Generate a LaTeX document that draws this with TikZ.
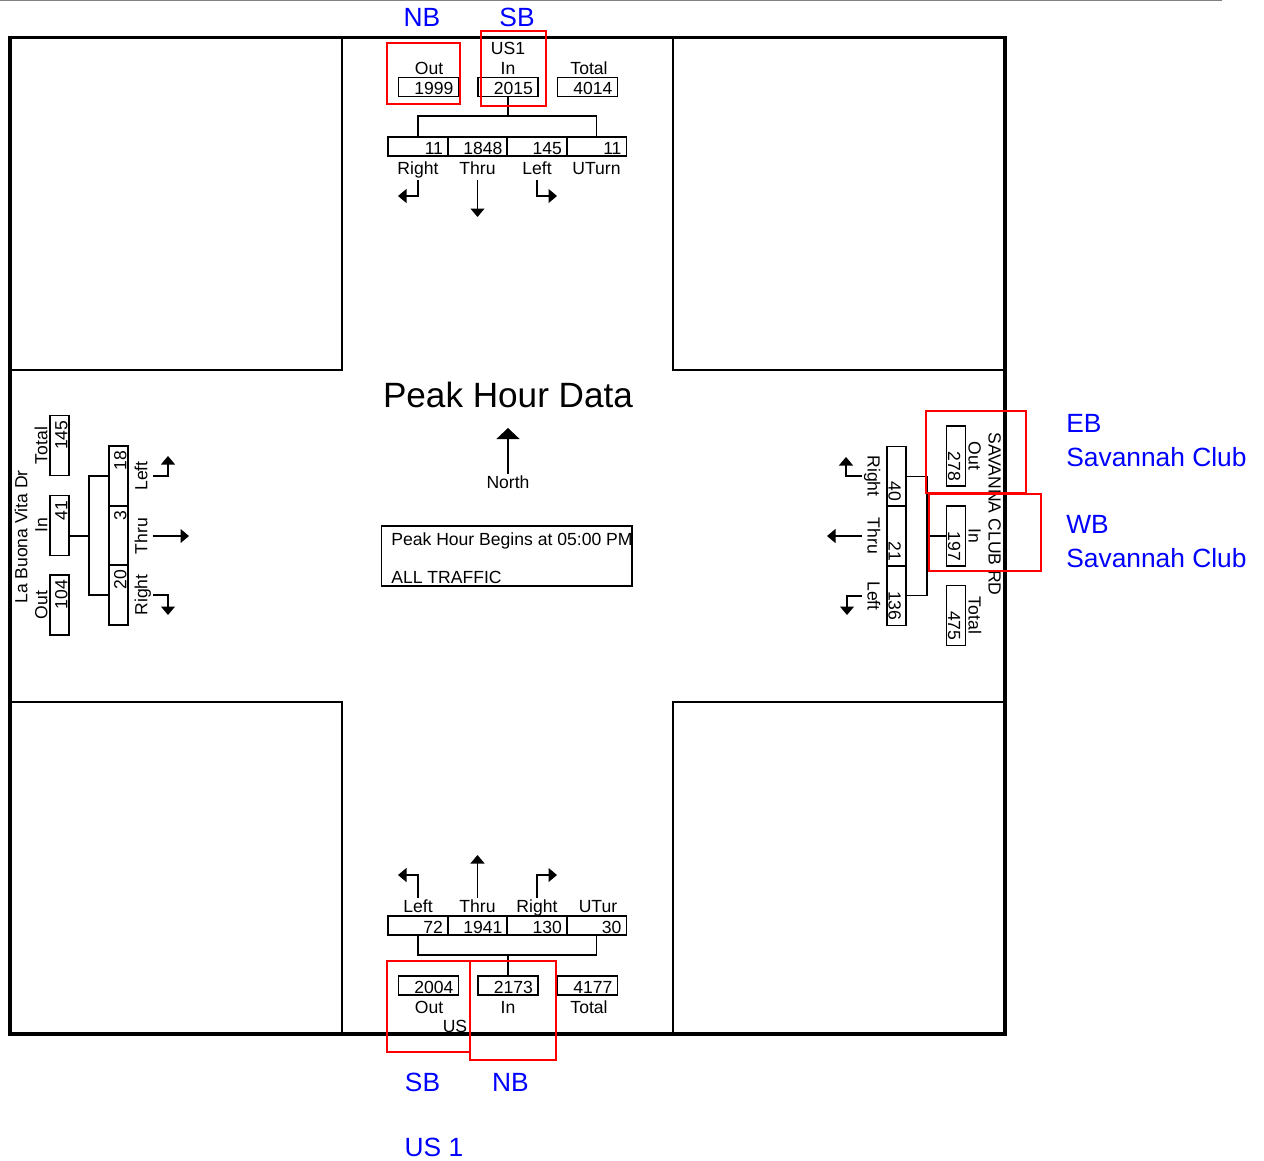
\documentclass[tikz,border=0pt]{standalone}
\usepackage{fontspec}
\setmainfont{Liberation Sans}
\usetikzlibrary{arrows.meta, positioning}

\begin{document}
\begin{tikzpicture}[x=0.02cm, y=-0.02cm,
  vol/.style={draw, line width=0.6pt, minimum height=0.38cm, text width=1.0cm, inner xsep=0.1cm, inner ysep=0pt, align=right, text height=9pt, text depth=0pt, font=\fontsize{10}{10}\selectfont},
  lbl/.style={inner sep=1pt, text height=7.5pt, text depth=2pt, font=\fontsize{10}{12}\selectfont},
  wire/.style={line width=0.6pt},
  turn/.style={-{Triangle[length=0.17cm, width=0.28cm]}, line width=0.6pt},
  note/.style={blue, inner sep=0pt, anchor=base, font=\fontsize{15}{18}\selectfont},
  hilite/.style={draw=red, line width=1.6pt}
]
\useasboundingbox (0,0) rectangle (1264,1160);

% frame and corner blocks
\draw[gray, line width=0.4pt] (0,0.7) -- (1222,0.7);
\draw[wire] (10,37.5) rectangle (342,370);
\draw[wire] (673,37.5) rectangle (1005,370);
\draw[wire] (10,702) rectangle (342,1034);
\draw[wire] (673,702) rectangle (1005,1034);
\draw[line width=2pt] (10,37.5) rectangle (1005,1034);

% north leg
\node[lbl] (usN) at (508,50) {US1};
\node[lbl] (oN) at (429,70) {Out};
\node[lbl] (iN) at (508,70) {In};
\node[lbl] (tN) at (589,70) {Total};
\node[vol] (outN) at (428.5,87) {1999};
\node[vol] (inN) at (508,87) {2015};
\node[vol] (totN) at (587.5,87) {4014};
\node[vol] (rN) at (418,146.5) {11};
\node[vol] (thN) at (477.5,146.5) {1848};
\node[vol] (lN) at (537,146.5) {145};
\node[vol] (uN) at (596.5,146.5) {11};
\node[lbl] (rlN) at (418,170) {Right};
\node[lbl] (thlN) at (477.5,170) {Thru};
\node[lbl] (llN) at (537,170) {Left};
\node[lbl] (ulN) at (596.5,170) {UTurn};
\coordinate (barN) at (508,116);
\draw[wire] (rN.north) |- (barN) -| (uN.north);
\draw[wire] (inN.south) -- (barN);
\coordinate (tipRN) at (398,196);
\coordinate (tipThN) at (477.5,217);
\coordinate (tipLN) at (557,196);
\draw[turn] (rlN.south) |- (tipRN);
\draw[turn] (thlN.south) -- (tipThN);
\draw[turn] (llN.south) |- (tipLN);

% south leg
\coordinate (tipLS) at (398,875);
\coordinate (tipThS) at (477.5,855);
\coordinate (tipRS) at (557,875);
\node[lbl] (llS) at (418,908) {Left};
\node[lbl] (thlS) at (477.5,908) {Thru};
\node[lbl] (rlS) at (537,908) {Right};
\node[lbl] (ulS) at (598,908) {UTur};
\draw[turn] (llS.north) |- (tipLS);
\draw[turn] (thlS.north) -- (tipThS);
\draw[turn] (rlS.north) |- (tipRS);
\node[vol] (lS) at (418,925.5) {72};
\node[vol] (thS) at (477.5,925.5) {1941};
\node[vol] (rS) at (537,925.5) {130};
\node[vol] (uS) at (596.5,925.5) {30};
\node[vol] (outS) at (428.5,985.5) {2004};
\node[vol] (inS) at (508,985.5) {2173};
\node[vol] (totS) at (587.5,985.5) {4177};
\coordinate (barS) at (508,955);
\draw[wire] (lS.south) |- (barS) -| (uS.south);
\draw[wire] (inS.north) -- (barS);
\node[lbl] (oS) at (429,1009) {Out};
\node[lbl] (iS) at (508,1009) {In};
\node[lbl] (tS) at (589,1009) {Total};
\node[lbl] (usS) at (455,1028) {US};

% west leg
\node[lbl, rotate=90] (nmW) at (22.5,537) {La Buona Vita Dr};
\node[lbl, rotate=90] (tW) at (42.5,445.5) {Total};
\node[lbl, rotate=90] (iW) at (42.5,525.5) {In};
\node[lbl, rotate=90] (oW) at (42.5,605) {Out};
\node[vol, rotate=90] (totW) at (59.5,445.5) {145};
\node[vol, rotate=90] (inW) at (59.5,525.5) {41};
\node[vol, rotate=90] (outW) at (59.5,605) {104};
\node[vol, rotate=90] (lW) at (118.5,476) {18};
\node[vol, rotate=90] (thW) at (118.5,535.5) {3};
\node[vol, rotate=90] (rW) at (118.5,595) {20};
\node[lbl, rotate=90] (llW) at (142.5,476) {Left};
\node[lbl, rotate=90] (thlW) at (142.5,536) {Thru};
\node[lbl, rotate=90] (rlW) at (142.5,595) {Right};
\coordinate (barW) at (89,536);
\draw[wire] (lW.north) -| (barW) |- (rW.north);
\draw[wire] (inW.south |- barW) -- (barW);
\coordinate (tipLW) at (168,456);
\coordinate (tipThW) at (189,536);
\coordinate (tipRW) at (168,615);
\draw[turn] (llW.south) -| (tipLW);
\draw[turn] (thlW.south) -- (tipThW);
\draw[turn] (rlW.south) -| (tipRW);

% east leg
\node[lbl, rotate=-90] (nmE) at (993.5,514) {SAVANNA CLUB RD};
\node[lbl, rotate=-90] (oE) at (973.5,456) {Out};
\node[lbl, rotate=-90] (iE) at (973.5,536) {In};
\node[lbl, rotate=-90] (tE) at (973.5,615.5) {Total};
\node[vol, rotate=-90] (outE) at (956,456) {278};
\node[vol, rotate=-90] (inE) at (956,536) {197};
\node[vol, rotate=-90] (totE) at (956,615.5) {475};
\node[vol, rotate=-90] (rE) at (896.5,476.5) {40};
\node[vol, rotate=-90] (thE) at (896.5,536) {21};
\node[vol, rotate=-90] (lE) at (896.5,595.5) {136};
\node[lbl, rotate=-90] (rlE) at (872.5,476) {Right};
\node[lbl, rotate=-90] (thlE) at (872.5,536) {Thru};
\node[lbl, rotate=-90] (llE) at (872.5,596) {Left};
\coordinate (barE) at (927,536);
\draw[wire] (rE.north) -| (barE) |- (lE.north);
\draw[wire] (inE.south) -- (barE);
\coordinate (tipRE) at (846,457);
\coordinate (tipThE) at (827,536);
\coordinate (tipLE) at (847,615);
\draw[turn] (rlE.south) -| (tipRE);
\draw[turn] (thlE.south) -- (tipThE);
\draw[turn] (llE.south) -| (tipLE);

% centre
\node[font=\fontsize{20}{24}\selectfont] (title) at (508,395) {Peak Hour Data};
\node[lbl] (north) at (508,484) {North};
\coordinate (tipNo) at (508,428);
\draw[-{Triangle[length=0.22cm, width=0.46cm]}, line width=0.6pt] (north.north) -- (tipNo);
\node[draw, line width=0.6pt, minimum width=5.02cm, minimum height=1.2cm] (info) at (506.5,556) {};
\node[anchor=base west, inner sep=0pt, font=\fontsize{10}{12}\selectfont] (begins) at (391,545) {Peak Hour Begins at 05:00 PM};
\node[anchor=base west, inner sep=0pt, font=\fontsize{10}{12}\selectfont] (traffic) at (391,583.5) {ALL TRAFFIC};

% highlights
\draw[hilite] (387,43) rectangle (460,104);
\draw[hilite] (481,31) rectangle (546,106);
\draw[hilite] (926,411) rectangle (1026,493);
\draw[hilite] (929,494) rectangle (1041,571);
\draw[hilite] (387,961) rectangle (470,1052);
\draw[hilite] (470,961) rectangle (556,1060);

\node[note] (nbN) at (422,26.5) {NB};
\node[note] (sbN) at (517,26.5) {SB};
\node[note] (sbS) at (422.5,1091.5) {SB};
\node[note] (nbS) at (510.5,1091.5) {NB};
\node[note] (usone) at (434,1156.5) {US 1};
\node[note, anchor=base west] (eb) at (1066,432.5) {EB};
\node[note, anchor=base west] (ebname) at (1066,466) {Savannah Club};
\node[note, anchor=base west] (wb) at (1066,533) {WB};
\node[note, anchor=base west] (wbname) at (1066,567) {Savannah Club};

\end{tikzpicture}
\end{document}
